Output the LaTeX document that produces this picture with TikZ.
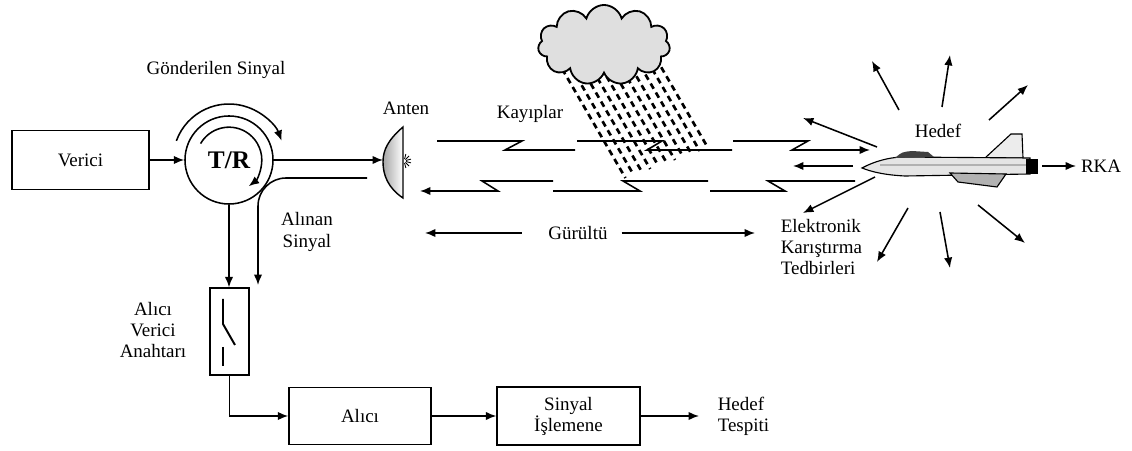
\documentclass[tikz,border=0pt]{standalone}
\usepackage{fontspec}
\setmainfont{Liberation Serif}
\usetikzlibrary{arrows.meta}
\usetikzlibrary{shapes.symbols}

\begin{document}
\begin{tikzpicture}[x=0.025cm, y=-0.025cm, line width=1.1pt,
    >={Latex[length=2.6mm,width=2.1mm]},
    every node/.style={font=\fontsize{13.5}{15}\selectfont},
    kutu/.style={draw, rectangle, inner sep=0pt},
    etiket/.style={align=center, inner sep=0pt}]
    \useasboundingbox (0,0) rectangle (1132,451);

    % verici ve T/R
    \node [kutu, minimum width=3.42cm, minimum height=1.47cm] (verici) at (80.5,160) {Verici};
    \node [draw, circle, minimum size=2.2cm, inner sep=0pt, font=\fontsize{18}{20}\selectfont\bfseries] (tr) at (229,160) {T/R};
    \draw [->] (verici) -- (tr);
    \draw [->] ([shift={(160:1.4cm)}]tr.center) arc [start angle=160, end angle=20, radius=1.4cm];
    \draw [->] ([shift={(150:0.82cm)}]tr.center) arc [start angle=150, end angle=-53, radius=0.82cm];
    \node [etiket] (gonderilen) at (216,70) {Gönderilen Sinyal};

    % anten
    \coordinate (anten) at (383,160);
    \coordinate (antenalt) at (367,178);
    \shade [left color=gray!70, right color=white, draw=black, line width=1pt] (403,127) .. controls (388,140) and (383,150) .. (383,162) .. controls (383,175) and (388,188) .. (403,198) -- cycle;
    \foreach \a in {-75,-45,-15,15,45,75}
        \draw [line width=0.6pt] ([shift={(\a:0.05cm)}]404,161) -- ++(\a:0.13cm);
    \node [etiket] (antenyazi) at (406,108) {Anten};
    \draw [->] (tr.east) -- (anten);
    \coordinate (alinanuc) at (258,285);
    \draw [->, rounded corners=0.7cm] (antenalt) -| (alinanuc);
    \node [etiket] (alinan) at (307,232) {Alınan\\Sinyal};

    % alici verici anahtari
    \node [kutu, minimum width=0.97cm, minimum height=2.17cm] (anahtar) at (229.5,331.5) {};
    \draw [->] (tr.south) -- (tr.south |- anahtar.north);
    \draw [line width=1.4pt] (anahtar.center) ++(-6.5,-32.5) -- ++(0,25) -- ++(12,21);
    \draw [line width=1.4pt] (anahtar.center) ++(-6.5,15.5) -- ++(0,19);
    \node [etiket] (anahtaryazi) at (153,330) {Alıcı\\Verici\\Anahtarı};

    % alt sira
    \node [kutu, minimum width=3.55cm, minimum height=1.42cm] (alici) at (360,416) {Alıcı};
    \node [kutu, minimum width=3.57cm, minimum height=1.45cm, align=center] (isleme) at (568.5,416) {Sinyal\\İşlemene};
    \node [etiket, align=left, anchor=west] (tespit) at (717,416) {Hedef\\Tespiti};
    \draw [->] (anahtar.south) |- (alici.west);
    \draw [->] (alici) -- (isleme);
    \draw [->, shorten >=0.45cm] (isleme) -- (tespit.west);

    % yagmur ve bulut
    \foreach \i in {0,...,10} {
        \pgfmathsetmacro\xa{557+10*\i}
        \pgfmathsetmacro\ye{178-3*\i}
        \pgfmathsetmacro\xe{\xa+0.58*(\ye-60)}
        \pgfmathsetmacro\faz{0.05*mod(\i,3)}
        \draw [dash pattern=on 0.15cm off 0.11cm, dash phase=\faz cm, line width=1.9pt] (\xa,60) -- (\xe,\ye);
    }
    \node [cloud, cloud puffs=11, aspect=1.7, draw, fill=gray!25, line width=1.3pt, minimum width=3.3cm, minimum height=2cm] (bulut) at (604,45) {};

    % giden ve donen sinyal
    \foreach \a/\b/\c/\d in {437/522/505/575, 577/662/647/732}
        \draw (\a,141) -- (\b,141) -- (\c,150) -- (\d,150);
    \draw [->] (733,141) -- (808,141) -- (792,150) -- (870,150);
    \foreach \a/\b/\c/\d in {855/768/785/710, 708/623/640/553}
        \draw (\a,181) -- (\b,181) -- (\c,191) -- (\d,191);
    \draw [->] (553,181) -- (482,181) -- (498,191) -- (420,191);
    \node [etiket] (kayiplar) at (530,114) {Kayıplar};

    \node [etiket] (gurultu) at (578,233) {Gürültü};
    \coordinate (gsol) at (425,233);
    \coordinate (gsag) at (755,233);
    \draw [->, shorten <=0.65cm] (gurultu.west) -- (gsol);
    \draw [->, shorten <=0.33cm] (gurultu.east) -- (gsag);

    % hedef ucak
    \filldraw [fill=gray!15, line width=0.8pt] (985,158) -- (1011,134) -- (1022,134) -- (1023,158) -- cycle;
    \filldraw [fill=gray!20, line width=0.8pt] (862,168) .. controls (875,161) and (888,158) .. (900,157) -- (1030,158) -- (1030,174) -- (905,176) .. controls (885,175) and (872,172) .. (862,168) -- cycle;
    \fill [black!75] (895,158) .. controls (902,152) .. (912,151) -- (928,152) -- (934,157) -- cycle;
    \draw [gray!60, line width=1.5pt] (880,165) -- (1026,165);
    \filldraw [fill=gray!60, line width=0.8pt] (950,173) -- (958,182) -- (997,187) -- (1006,174) -- cycle;
    \fill [black] (1026,159) rectangle (1038,174);
    \foreach \a/\b/\c/\d in {877/147/803/118, 899/110/872/61, 942/107/950/55, 989/120/1028/85,
        875/177/803/213, 908/208/877/262, 940/212/950/268, 978/205/1025/243, 853/166/793/166}
        \draw [->] (\a,\b) -- (\c,\d);
    \node [etiket] (hedef) at (938,131) {Hedef};
    \coordinate (kuyruk) at (1042,166);
    \node [etiket, anchor=west, inner sep=3pt] (rka) at (1076,166) {RKA};
    \draw [->] (kuyruk) -- (rka.west);
    \node [etiket, align=left, anchor=west] (ekt) at (780,247) {Elektronik\\Karıştırma\\Tedbirleri};
\end{tikzpicture}
\end{document}
